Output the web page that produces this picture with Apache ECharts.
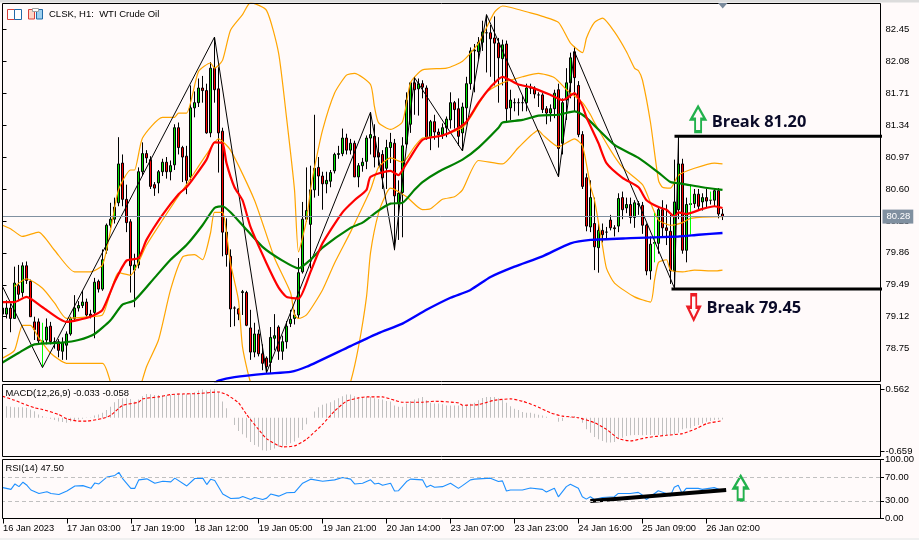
<!DOCTYPE html>
<html><head><meta charset="utf-8">
<style>html,body{margin:0;padding:0;background:#fffafa}#c{width:919px;height:540px}</style>
<script src="https://cdn.jsdelivr.net/npm/echarts@6/dist/echarts.min.js"></script>
</head><body><div id="c"></div>
<script>
const tickLabels=['16 Jan 2023','17 Jan 03:00','17 Jan 19:00','18 Jan 12:00','19 Jan 05:00','19 Jan 21:00','20 Jan 14:00','23 Jan 07:00','23 Jan 23:00','24 Jan 16:00','25 Jan 09:00','26 Jan 02:00'];
const priceTicks=[82.45,82.08,81.71,81.34,80.97,80.60,80.23,79.86,79.49,79.12,78.75];
const macdTicks=[0.562,-0.659];
const rsiTicks=[100,70,30,0];
// open, close, low, high
const ohlc=[[79.22,79.15,79.04,79.31],[79.15,79.22,79.1,79.31],[79.22,79.10,78.94,79.27],[79.10,79.51,79.1,79.70],[79.48,79.38,79.3,79.72],[79.40,79.71,79.35,79.75],[79.71,79.54,79.5,79.76],[79.53,79.12,79.12,79.55],[79.06,78.97,78.85,79.12],[79.06,78.84,78.8,79.1],
[78.84,78.82,78.8,78.9],[78.85,79.0,78.8,79.1],[79.01,78.83,78.8,79.06],[78.83,78.83,78.75,78.88],[78.83,78.73,78.65,78.86],[78.72,78.82,78.62,78.88],[78.79,78.92,78.62,78.95],[78.92,79.10,78.90,79.12],[79.10,79.22,79.06,79.37],[79.22,79.25,79.18,79.30],
[79.25,79.29,79.22,79.42],[79.29,79.14,79.12,79.33],[79.15,79.13,79.10,79.20],[79.17,79.52,78.87,79.57],[79.53,79.44,79.40,79.55],[79.44,79.78,79.42,79.90],[79.89,80.18,79.85,80.2],[80.18,80.25,80.15,80.44],[80.25,80.39,80.2,80.5],[80.44,80.89,80.40,81.2],
[80.90,80.48,80.40,81.0],[80.48,80.21,80.1,80.65],[80.22,79.71,79.40,80.25],[79.66,79.72,79.23,79.85],[79.72,80.80,79.68,80.85],[80.80,81.01,80.75,81.14],[81.01,80.96,80.9,81.05],[80.94,80.63,80.6,80.98],[80.65,80.61,80.52,80.68],[80.67,80.80,80.55,80.82],
[80.80,80.91,80.75,80.95],[80.91,80.80,80.72,80.97],[80.80,80.87,80.70,80.93],[80.88,81.31,80.82,81.35],[81.31,81.08,81.0,81.37],[81.08,80.97,80.68,81.1],[80.98,80.70,80.54,81.1],[80.74,81.54,80.7,81.8],[81.54,81.60,81.43,81.73],[81.60,81.77,81.55,81.88],
[81.77,81.74,81.60,81.91],[81.74,81.25,81.24,81.82],[81.25,82.00,81.20,82.07],[82.00,81.75,81.60,82.36],[81.76,81.25,80.79,82.01],[81.27,80.10,79.82,81.31],[80.10,79.84,79.7,80.26],[79.82,79.21,79.0,79.90],[79.22,79.22,79.01,79.24],[79.21,79.15,79.08,79.22],
[79.40,79.41,79.14,79.43],[79.40,79.02,79.01,79.42],[78.99,78.71,78.62,79.2],[78.71,78.92,78.65,79.05],[78.92,78.69,78.66,78.97],[78.69,78.58,78.50,78.8],[78.64,78.54,78.46,78.66],[78.59,78.88,78.46,79.0],[78.87,78.9,78.73,79.15],[79.0,78.72,78.62,79.02],
[78.72,78.83,78.62,78.9],[78.83,79.01,78.75,79.07],[79.04,79.09,79.0,79.2],[79.1,79.14,79.03,79.2],[79.14,79.63,79.1,79.8],[79.64,80.25,79.62,80.45],[80.25,80.35,80.22,80.85],[80.19,80.59,79.68,80.87],[80.59,80.84,80.5,81.46],[80.85,80.75,80.52,80.97],
[80.75,80.66,80.36,80.8],[80.66,80.70,80.55,80.8],[80.69,80.79,80.62,80.82],[80.81,81.0,80.78,81.02],[81.0,81.01,80.95,81.1],[81.01,81.19,80.98,81.3],[81.19,81.05,81.0,81.24],[81.05,81.13,81.0,81.18],[81.13,80.74,80.74,81.16],[80.74,80.87,80.62,80.9],
[80.87,80.91,80.8,80.96],[80.92,81.19,80.83,81.22],[81.19,81.23,81.0,81.49],[81.21,80.97,80.85,81.35],[81.02,80.97,80.87,81.2],[81.0,80.73,80.6,81.05],[80.84,81.08,80.6,81.17],[81.08,81.14,80.9,81.25],[81.13,80.52,79.89,81.18],[80.44,80.55,80.01,80.7],
[80.56,81.10,80.04,81.2],[81.12,81.63,81.08,81.72],[81.35,81.83,81.25,81.84],[81.83,81.75,81.46,81.90],[81.76,81.82,81.45,81.88],[81.82,81.78,81.65,81.86],[81.77,81.20,81.17,81.80],[81.20,81.38,81.05,81.40],[81.38,81.26,81.17,81.46],[81.26,81.23,81.08,81.30],
[81.23,81.31,81.18,81.36],[81.31,81.41,81.2,81.44],[81.40,81.60,81.3,81.72],[81.60,81.52,81.3,81.62],[81.53,81.21,81.1,81.65],[81.25,81.55,81.04,81.6],[81.54,81.82,81.35,81.9],[81.82,82.20,81.75,82.24],[82.20,82.21,81.72,82.28],[82.19,82.30,82.1,82.36],
[82.30,82.42,82.2,82.55],[82.41,82.41,81.95,82.62],[82.41,82.34,81.9,82.5],[82.35,82.29,81.8,82.6],[82.29,82.12,81.6,82.35],[82.11,82.27,81.8,82.33],[82.28,81.53,81.38,82.32],[81.54,81.63,81.4,81.75],[81.60,81.60,81.5,81.65],[81.60,81.60,81.45,81.65],
[81.60,81.60,81.5,81.68],[81.60,81.77,81.5,81.82],[81.77,81.77,81.7,81.82],[81.77,81.70,81.65,81.79],[81.69,81.69,81.55,81.72],[81.69,81.52,81.48,81.71],[81.53,81.48,81.35,81.56],[81.48,81.53,81.38,81.58],[81.53,81.71,81.42,81.75],[81.75,81.07,80.74,81.82],
[81.13,81.60,81.0,81.65],[81.63,81.83,81.4,82.0],[81.83,82.12,81.65,82.18],[82.19,81.89,81.5,82.25],[81.80,81.23,81.2,81.85],[81.23,80.63,80.6,81.27],[80.73,80.17,80.11,80.78],[80.16,80.50,80.1,80.70],[80.20,79.93,79.66,80.5],[79.92,80.12,79.63,80.2],
[80.12,80.07,79.98,80.2],[80.10,80.10,80.02,80.16],[80.24,80.15,80.12,80.3],[80.15,80.14,80.05,80.18],[80.17,80.49,80.10,80.55],[80.50,80.36,80.25,80.57],[80.38,80.42,80.32,80.5],[80.42,80.27,80.2,80.5],[80.27,80.44,80.15,80.47],[80.42,80.43,80.3,80.46],
[80.41,80.18,80.08,80.45],[80.18,79.65,79.6,80.2],[79.65,79.96,79.55,80.05],[79.97,79.98,79.9,80.05],[79.97,80.36,79.85,80.4],[80.36,80.15,80.05,80.47],[80.15,80.12,79.95,80.42],[80.11,79.65,79.5,80.3],[79.65,80.45,79.45,80.94],[80.36,80.89,80.25,81.21],
[80.89,79.89,79.85,80.95],[79.89,80.42,79.75,80.5],[80.42,80.43,80.1,80.65],[80.43,80.54,80.38,80.6],[80.54,80.40,80.35,80.6],[80.45,80.50,80.35,80.55],[80.50,80.46,80.38,80.6],[80.47,80.47,80.42,80.54],[80.47,80.58,80.4,80.6],[80.58,80.31,80.26,80.61],[80.31,80.28,80.24,80.37]];
const limeIdx=[10,163,172,177];
const limeHigh=[79.05,80.32,80.63,80.57];
const limeLow=[78.54,79.75,80.07,80.47];
const redMA=[[0,79.29],[3,79.29],[6,79.35],[10,79.23],[16,79.06],[22,79.12],[25,79.20],[28,79.52],[31,79.77],[34,79.80],[36,80.01],[40,80.30],[44,80.54],[46,80.62],[48,80.74],[51,80.94],[53,81.14],[55,81.13],[56,80.90],[58,80.62],[60,80.47],[62,80.16],[66,79.74],[69,79.46],[71,79.35],[74,79.33],[77,79.64],[80,79.97],[85,80.33],[88,80.47],[91,80.59],[92,80.74],[97,80.81],[99,80.76],[100,80.82],[102,80.97],[105,81.17],[110,81.22],[113,81.28],[116,81.38],[119,81.60],[122,81.78],[125,81.90],[129,81.81],[132,81.78],[137,81.69],[140,81.63],[141,81.65],[143,81.71],[145,81.56],[146,81.43],[149,81.13],[151,80.90],[155,80.73],[159,80.62],[161,80.47],[164,80.39],[166,80.36],[168,80.28],[169,80.33],[171,80.31],[175,80.37],[178,80.40],[180,80.38]];
const greenMA=[[0,78.59],[4,78.70],[8,78.80],[15,78.82],[19,78.85],[23,78.92],[27,79.08],[30,79.26],[33,79.31],[38,79.57],[42,79.78],[46,79.95],[50,80.18],[53,80.38],[55,80.40],[57,80.33],[60,80.18],[65,79.93],[70,79.77],[74,79.68],[77,79.78],[80,79.92],[87,80.15],[90,80.21],[94,80.35],[97,80.43],[100,80.44],[103,80.59],[105,80.68],[109,80.80],[115,80.94],[119,81.08],[124,81.31],[125,81.37],[130,81.40],[134,81.45],[139,81.46],[143,81.50],[145,81.46],[147,81.38],[153,81.11],[159,80.96],[164,80.79],[167,80.68],[170,80.66],[175,80.62],[180,80.59]];
const blueMA=[[53,78.35],[54,78.38],[58,78.42],[66,78.46],[72,78.48],[76,78.54],[87,78.78],[94,78.93],[100,79.04],[106,79.20],[112,79.34],[117,79.43],[122,79.58],[128,79.70],[135,79.82],[142,79.97],[147,80.01],[157,80.03],[169,80.05],[174,80.07],[180,80.09]];
const bandUpper=[[0,80.18],[2,80.14],[5,80.05],[9,80.10],[13,79.89],[18,79.64],[22,79.64],[25,79.72],[27,80.12],[29,80.59],[32,80.82],[33,80.82],[35,81.19],[40,81.43],[43,81.43],[44,81.48],[46,81.48],[49,81.96],[52,82.06],[53,82.0],[55,82.09],[57,82.44],[60,82.62],[62,82.76],[66,82.67],[69,82.18],[71,81.43],[73,80.59],[74,79.87],[76,80.24],[77,80.59],[78,80.85],[80,81.28],[83,81.71],[86,81.92],[88,81.94],[92,81.81],[93,81.55],[94,81.37],[97,81.29],[100,81.38],[102,81.83],[105,81.98],[111,82.0],[115,82.08],[119,82.29],[123,82.65],[125,82.72],[132,82.64],[135,82.6],[139,82.53],[142,82.29],[145,82.18],[146,82.35],[148,82.53],[150,82.58],[153,82.42],[156,82.19],[158,82.0],[159,81.97],[160,81.86],[162,81.37],[164,80.70],[165,80.62],[167,80.61],[169,80.76],[173,80.84],[178,80.90],[180,80.89]];
const bandMiddle=[[3,79.47],[6,79.56],[10,79.45],[13,79.28],[16,79.10],[22,79.12],[25,79.14],[27,79.40],[29,79.63],[32,79.60],[34,79.75],[36,79.95],[40,80.24],[43,80.45],[46,80.65],[51,81.0],[54,81.18],[57,81.05],[63,80.47],[68,79.80],[72,79.40],[73,79.14],[74,79.10],[76,79.14],[80,79.43],[83,79.74],[87,80.10],[90,80.39],[92,80.59],[94,80.85],[97,80.96],[100,80.91],[103,81.09],[105,81.19],[110,81.22],[115,81.31],[117,81.43],[121,81.72],[125,81.83],[130,81.90],[134,81.94],[138,81.89],[141,81.75],[145,81.60],[147,81.46],[148,81.37],[152,81.05],[155,80.85],[160,80.65],[162,80.44],[164,80.24],[167,80.18],[170,80.21],[172,80.26],[179,80.28],[180,80.28]];
const bandLower=[[0,78.64],[3,78.73],[5,79.02],[7,79.02],[9,78.88],[12,78.70],[16,78.58],[25,78.58],[27,78.36],[30,77.9],[33,78.1],[36,78.54],[39,78.85],[42,79.43],[45,79.81],[48,79.84],[50,79.78],[52,80.09],[53,80.33],[55,80.33],[56,80.09],[57,79.74],[59,79.31],[60,78.77],[62,78.36],[70,77.4],[80,77.3],[87,78.36],[89,78.77],[91,79.35],[92,79.86],[94,80.32],[96,80.55],[97,80.61],[101,80.51],[105,80.36],[107,80.37],[110,80.48],[113,80.51],[115,80.59],[119,80.93],[125,80.89],[129,81.08],[134,81.28],[135,81.23],[139,81.09],[143,81.18],[145,81.10],[147,80.63],[148,80.47],[150,79.94],[151,79.68],[153,79.51],[158,79.35],[162,79.29],[163,79.54],[164,79.75],[166,79.78],[167,79.66],[170,79.64],[173,79.66],[178,79.65],[180,79.66]];
const zigzag=[[0,79.47],[10,78.53],[53,82.36],[66,78.47],[92,81.49],[98,79.90],[103,81.89],[115,81.04],[121,82.62],[139,80.74],[143,82.19],[168,79.45],[169,81.20]];
const macdHist=[.23,.226,.213,.207,.207,.207,.194,.162,.129,.065,.032,.006,-.019,-.045,-.071,-.084,-.097,-.071,-.045,-.032,-.019,-.006,.006,.045,.065,.097,.149,.213,.304,.368,.381,.381,.368,.317,.355,.42,.465,.459,.446,.446,.439,.433,.446,.459,.472,.465,.459,.478,.497,.53,.549,.53,.549,.556,.497,.317,.187,0,-.142,-.258,-.323,-.388,-.472,-.53,-.568,-.633,-.646,-.627,-.601,-.568,-.562,-.536,-.497,-.465,-.388,-.239,-.129,0,.123,.207,.252,.278,.304,.342,.381,.42,.452,.452,.42,.394,.394,.407,.407,.381,.368,.355,.329,.317,.239,.213,.213,.278,.329,.355,.381,.407,.342,.291,.278,.278,.265,.239,.239,.239,.239,.239,.252,.271,.291,.342,.388,.407,.407,.407,.381,.355,.291,.226,.174,.149,.11,.097,.097,.078,.058,.045,.019,0,0,-.078,-.065,-.006,.013,.032,0,-.097,-.226,-.291,-.375,-.42,-.452,-.485,-.485,-.472,-.42,-.388,-.355,-.342,-.336,-.336,-.342,-.336,-.336,-.336,-.336,-.336,-.336,-.323,-.323,-.291,-.226,-.207,-.207,-.162,-.142,-.11,-.078,-.065,-.045,-.032,-.033];
const macdSignal=[[0,.42],[3,.342],[5,.278],[8,.194],[10,.162],[14,.065],[16,-.019],[19,-.065],[21,-.065],[25,-.013],[27,.045],[30,.239],[34,.304],[35,.368],[39,.407],[42,.452],[45,.465],[49,.472],[54,.504],[56,.452],[59,.291],[61,.065],[64,-.226],[66,-.407],[70,-.568],[73,-.549],[76,-.42],[80,-.129],[83,.129],[86,.323],[89,.388],[91,.407],[95,.407],[98,.342],[100,.304],[105,.304],[108,.323],[114,.291],[115,.245],[119,.258],[123,.342],[127,.368],[130,.323],[133,.239],[137,.097],[140,.032],[144,0],[148,-.097],[151,-.226],[154,-.407],[157,-.452],[161,-.388],[166,-.342],[170,-.31],[173,-.226],[176,-.116],[180,-.058]];
const rsiLine=[[0,52.3],[2,49.4],[3,58.6],[4,54],[5,61.5],[6,56.3],[7,48.3],[9,42.5],[11,45.4],[12,42.5],[14,40.8],[16,46.6],[18,55.2],[20,55.7],[22,51.1],[23,60.3],[24,58.6],[26,70.1],[28,73],[29,78.2],[30,67.2],[32,51.1],[33,51.1],[34,65.5],[36,67.2],[38,59.8],[40,63.2],[42,62.1],[43,68.4],[46,55.2],[48,67.8],[50,68.4],[51,57.5],[52,66.7],[53,64.4],[55,41.4],[57,33.9],[59,34.5],[60,37.4],[62,32.2],[63,35.6],[65,32.2],[66,34.5],[67,41.4],[69,37.9],[71,43.7],[73,44.3],[75,59.8],[77,66.7],[80,63.2],[83,65.5],[85,69.5],[87,66.7],[88,58.6],[90,59.8],[92,65.5],[93,58.6],[94,59.8],[95,56.3],[97,59.8],[98,46.6],[99,47.1],[101,62.6],[102,66.7],[105,65.5],[106,52.9],[107,56.3],[108,52.9],[110,54],[112,59.8],[114,51.1],[115,55.7],[117,65.5],[118,66.7],[122,68.4],[124,62.6],[125,63.8],[126,46.6],[127,48.3],[130,48.3],[132,51.7],[135,49.4],[136,44.8],[138,51.1],[139,36.8],[141,54],[142,58],[144,51.1],[145,36.8],[146,32.8],[147,36.8],[148,32.2],[150,35.6],[153,36.8],[154,42.5],[157,42.5],[159,44.3],[160,39.7],[161,32.2],[162,36.8],[164,47.1],[166,42.5],[167,37.9],[168,52.9],[169,56.3],[170,42.5],[171,51.1],[174,51.1],[175,49.4],[178,52.3],[180,47.5]];
const rsiTrend=[[147,29.8],[181,48.3]];
const currentPrice=80.28;
const breaks=[{text:'Break 81.20',level:81.21,from:168,labelAt:[177.3,81.37]},{text:'Break 79.45',level:79.44,from:167.25,labelAt:[176,79.22]}];
const arrowUp='path://M7 0L14 13L10 13L10 26L4 26L4 13L0 13Z';
const arrowDown='path://M4 0L10 0L10 13L14 13L7 26L0 13L4 13Z';
const FONT='"Liberation Sans",Arial,sans-serif';
const cats=Array.from({length:220},(_,i)=>i%16===0&&tickLabels[i/16]?tickLabels[i/16]:'');
const lime=[];limeIdx.forEach((x,k)=>{lime.push([x,limeHigh[k]],[x,limeLow[k]],['-','-'])});
const shownTick=(i)=>i%16===0&&i<=176;
const line=(data,color,width,extra)=>Object.assign({type:'line',data,symbol:'none',showSymbol:false,lineStyle:{color,width},clip:true,smooth:0.2,xAxisIndex:0,yAxisIndex:0,silent:true},extra||{});
const frame=(x,y,w,h)=>({type:'rect',shape:{x,y,width:w,height:h},style:{fill:'none',stroke:'#000',lineWidth:1},z:100,silent:true});
const hline=(x1,x2,y,c)=>({type:'line',shape:{x1,y1:y,x2,y2:y},style:{stroke:c,lineWidth:1},z:101,silent:true});
const text=(x,y,t)=>({type:'text',x,y,style:{text:t,font:'9.4px '+FONT,fill:'#000',textVerticalAlign:'middle'},z:102,silent:true});
const chart=echarts.init(document.getElementById('c'),null,{renderer:'canvas',width:919,height:540});
const hiddenX=(g)=>({type:'category',gridIndex:g,data:cats,show:false,boundaryGap:true});
const valY=(g,min,max,vals,fmt,extra)=>({type:'value',gridIndex:g,position:'right',min,max,splitLine:{show:false},axisLine:{show:false},
 axisTick:{show:true,length:4,customValues:vals,lineStyle:{color:'#000'}},
 axisLabel:Object.assign({show:true,customValues:vals,formatter:fmt,color:'#000',fontFamily:FONT,fontSize:9.5,margin:5,align:'left',showMinLabel:true,showMaxLabel:true},extra||{})});
const flat={opacity:1};
chart.setOption({
 animation:false,backgroundColor:'#fffafa',
 grid:[{left:0.5,top:3,width:880,height:378},{left:0.5,top:384.5,width:880,height:72},{left:0,top:459.5,width:880,height:59}],
 xAxis:[hiddenX(0),hiddenX(1),
  {type:'category',gridIndex:2,data:cats,boundaryGap:true,axisLine:{show:false},
   axisTick:{show:true,interval:shownTick,alignWithLabel:true,length:5,lineStyle:{color:'#000'}},
   axisLabel:{interval:shownTick,align:'left',color:'#000',fontFamily:FONT,fontSize:9.3,margin:5,hideOverlap:false,showMinLabel:true,showMaxLabel:true},splitLine:{show:false}},
  {type:'value',gridIndex:0,min:-0.5,max:219.5,show:false,splitLine:{show:false}}],
 yAxis:[valY(0,78.375,82.755,priceTicks,v=>v.toFixed(2)),
  valY(1,-0.756,0.649,macdTicks,v=>v.toFixed(3)),
  valY(2,0,100,rsiTicks,v=>v.toFixed(2),{alignMinLabel:'bottom',alignMaxLabel:'top'})],
 series:[
  line(bandUpper,'#ffa500',1.2),line(bandMiddle,'#ffa500',1.2),line(bandLower,'#ffa500',1.2),
  {type:'candlestick',data:ohlc,xAxisIndex:0,yAxisIndex:0,barWidth:2,clip:true,silent:true,
   itemStyle:{color:'#00e000',color0:'#ff0000',borderColor:'#000',borderColor0:'#000',borderWidth:1},
   markLine:{silent:true,symbol:'none',animation:false,data:[{yAxis:currentPrice}],lineStyle:{color:'#8090a0',width:1,type:'solid'},
    label:{show:true,position:'end',formatter:currentPrice.toFixed(2),backgroundColor:'#8090a0',color:'#fff',fontFamily:FONT,fontSize:9.5,padding:[2,3,2,4],distance:2}}},
  line(lime,'#00ff00',1,{smooth:false,connectNulls:false}),
  line(zigzag,'#000',1,{smooth:false}),
  line(blueMA,'#0000ff',2.4),line(greenMA,'#008000',2.2),line(redMA,'#ff0000',2.2),
  ...breaks.map(b=>line([[b.from,b.level],[220,b.level]],'#000',3,{smooth:false,xAxisIndex:3})),
  {type:'scatter',xAxisIndex:3,yAxisIndex:0,silent:true,symbolSize:0,itemStyle:flat,data:breaks.map(b=>({value:b.labelAt,label:{formatter:b.text}})),
   label:{show:true,position:'right',distance:0,fontFamily:'"Open Sans",sans-serif',fontWeight:'bold',fontSize:16.4,color:'#0a0a28'}},
  {type:'scatter',xAxisIndex:3,yAxisIndex:0,silent:true,symbol:arrowUp,symbolSize:[14,25],data:[[173.9,81.41]],itemStyle:{opacity:1,color:'#fffafa',borderColor:'#22b14c',borderWidth:2.5}},
  {type:'scatter',xAxisIndex:3,yAxisIndex:0,silent:true,symbol:arrowDown,symbolSize:[12,25],data:[[172.8,79.23]],itemStyle:{opacity:1,color:'#fffafa',borderColor:'#ed1c24',borderWidth:2.5}},
  {type:'bar',data:macdHist,xAxisIndex:1,yAxisIndex:1,barWidth:1,silent:true,itemStyle:{color:'#c0c0c0'}},
  {type:'line',data:macdSignal,xAxisIndex:1,yAxisIndex:1,symbol:'none',silent:true,smooth:0.2,lineStyle:{color:'#ff0000',width:1.1,type:[3,2]}},
  {type:'line',data:rsiLine,xAxisIndex:2,yAxisIndex:2,symbol:'none',silent:true,lineStyle:{color:'#1e90ff',width:1.1},
   markLine:{silent:true,symbol:'none',animation:false,label:{show:false},lineStyle:{color:'#c0c0c0',width:1,type:[4,3]},data:[{yAxis:70},{yAxis:30}]}},
  {type:'line',data:rsiTrend,xAxisIndex:2,yAxisIndex:2,symbol:'none',silent:true,lineStyle:{color:'#000',width:4}},
  {type:'scatter',xAxisIndex:2,yAxisIndex:2,silent:true,symbol:arrowUp,symbolSize:[14,24],symbolOffset:[-1.5,0],data:[[185,51.7]],itemStyle:{opacity:1,color:'#fffafa',borderColor:'#22b14c',borderWidth:2.5}}
 ],
 graphic:[
  {type:'rect',shape:{x:0,y:0,width:919,height:2.5},style:{fill:'#dcdcdc'},z:99,silent:true},
  {type:'rect',shape:{x:0,y:538,width:919,height:2},style:{fill:'#f0f0f0'},z:99,silent:true},
  {type:'rect',shape:{x:0,y:3,width:2.5,height:516},style:{fill:'#fffafa'},z:99,silent:true},
  frame(2.5,3.5,878,378),frame(2.5,384.5,878,72),frame(2.5,459.5,878,59),
  {type:'polygon',shape:{points:[[718,3],[727.5,3],[722.7,8.5]]},style:{fill:'#7a8a9c'},z:101,silent:true},
  {type:'rect',shape:{x:7.5,y:9.5,width:7,height:10},style:{fill:'#fff',stroke:'#d8403a',lineWidth:1},z:102,silent:true},
  {type:'rect',shape:{x:14.5,y:9.5,width:7,height:10},style:{fill:'#fff',stroke:'#1f6aa8',lineWidth:1},z:102,silent:true},
  hline(9,14,11.5,'#d8403a'),hline(9,14,14.5,'#d8403a'),hline(9,14,17.5,'#d8403a'),
  hline(16,21,11.5,'#1f6aa8'),hline(16,21,14.5,'#1f6aa8'),hline(16,21,17.5,'#1f6aa8'),
  {type:'rect',shape:{x:28.5,y:9.5,width:6,height:9.5},style:{fill:'#fbd5c8',stroke:'#d8403a',lineWidth:1},z:102,silent:true},
  {type:'rect',shape:{x:36.5,y:9.5,width:6,height:9.5},style:{fill:'#9fd0ef',stroke:'#1f6aa8',lineWidth:1},z:102,silent:true},
  {type:'rect',shape:{x:32.5,y:8.5,width:6,height:3},style:{fill:'#fff',stroke:'#a0a0a0',lineWidth:1},z:103,silent:true},
  {type:'text',x:49,y:14.5,style:{text:'CLSK, H1:  WTI Crude Oil',font:'9.5px '+FONT,fill:'#000',textVerticalAlign:'middle'},z:102,silent:true},
  text(5.5,393.5,'MACD(12,26,9) -0.033 -0.058'),
  text(5.5,468.5,'RSI(14) 47.50')
 ]
});
</script></body></html>
